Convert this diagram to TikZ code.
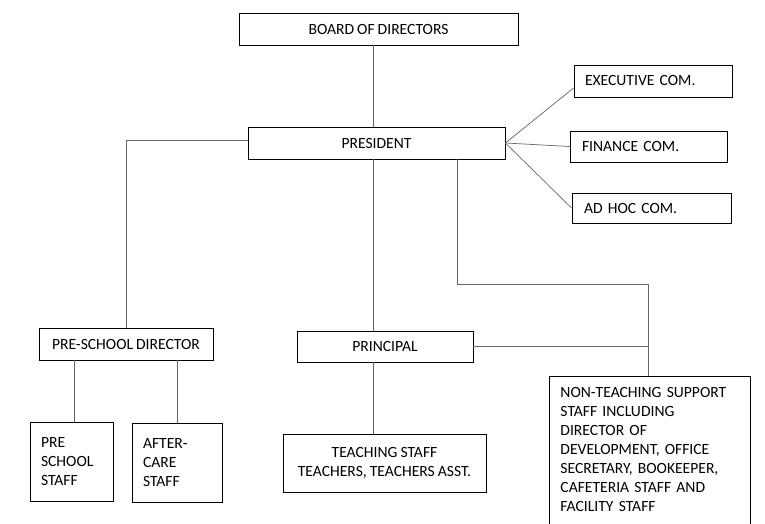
\documentclass[tikz,border=0pt]{standalone}
\usepackage{fontspec}
\setmainfont[WordSpace=0.85]{Carlito}
\begin{document}
\begin{tikzpicture}[x=1pt,y=-1pt,
  box/.style={draw=black,line width=0.9pt,inner sep=0pt,font=\fontsize{15.6}{19}\selectfont},
  lbox/.style={box,align=left},
  cbox/.style={box,align=center},
  link/.style={draw=black!60,line width=0.7pt}]
\useasboundingbox[fill=white] (0,0) rectangle (765,524);
% top
\node[cbox,minimum width=279pt,minimum height=32pt] (board) at (378.5,29) {BOARD OF DIRECTORS};
\node[cbox,minimum width=257pt,minimum height=32pt] (pres) at (376.5,143) {PRESIDENT};
% committees
\node[lbox,minimum height=32pt,text width=136pt,inner xsep=11pt] (exec) at (653,81) {EXECUTIVE COM.};
\node[lbox,minimum height=31pt,text width=133pt,inner xsep=12pt] (fin) at (648.5,146.5) {FINANCE COM.};
\node[lbox,minimum height=30pt,text width=135pt,inner xsep=12pt] (adhoc) at (651.5,208) {AD HOC COM.};
% middle level
\node[cbox,minimum width=174pt,minimum height=32pt] (psd) at (126,344) {PRE-SCHOOL DIRECTOR};
\node[cbox,minimum width=176pt,minimum height=31pt] (prin) at (385,346.5) {PRINCIPAL};
% bottom level
\node[lbox,minimum height=79pt,text width=61pt,inner xsep=11pt] (pss) at (71.5,461.5) {PRE\\SCHOOL\\STAFF};
\node[lbox,minimum height=79pt,text width=68pt,inner xsep=11pt] (acs) at (177,462.5) {AFTER-\\CARE\\STAFF};
\node[cbox,minimum width=203pt,minimum height=58pt] (teach) at (384.5,463) {TEACHING STAFF\\TEACHERS, TEACHERS ASST.};
\node[box,draw=none,align=left,anchor=north west,text width=179pt,inner xsep=11pt,inner ysep=11pt] (nt) at (549,376)
  {NON-TEACHING SUPPORT\\STAFF INCLUDING\\DIRECTOR OF\\DEVELOPMENT, OFFICE\\SECRETARY, BOOKEEPER,\\CAFETERIA STAFF AND\\FACILITY STAFF};
\draw[line width=0.9pt] ([yshift=-200pt]nt.north west) -- (nt.north west) -- (nt.north east) -- ([yshift=-200pt]nt.north east);
% connectors
\coordinate (trunk) at (373,0);
\coordinate (br) at (457,284);
\draw[link] (trunk |- board.south) -- (trunk |- pres.north);
\draw[link] (pres.east) -- ([yshift=-7pt]exec.west);
\draw[link] (pres.east) -- (fin.west);
\draw[link] (pres.east) -- (adhoc.west);
\draw[link] ([yshift=3pt]pres.west) -| (psd.north);
\draw[link] (trunk |- pres.south) -- (trunk |- prin.north);
\draw[link] (trunk |- prin.south) -- (trunk |- teach.north);
\draw[link] ([xshift=2.5pt]pss.north |- psd.south) -- ([xshift=2.5pt]pss.north);
\draw[link] (acs.north |- psd.south) -- (acs.north);
\draw[link] (br |- pres.south) -- (br) -| ([xshift=-1.5pt]nt.north);
\draw[link] (prin.east) -- ([xshift=-1.5pt]prin.east -| nt.north);
\end{tikzpicture}
\end{document}
